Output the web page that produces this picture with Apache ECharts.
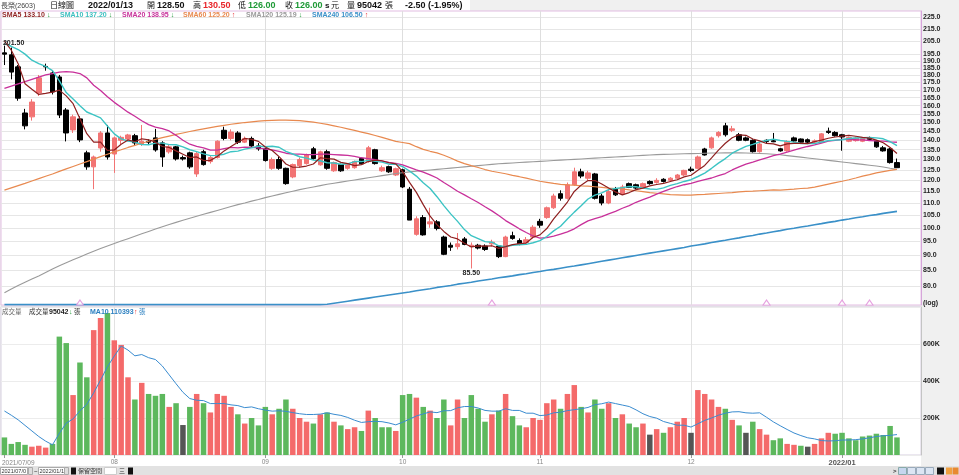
<!DOCTYPE html>
<html>
<head>
<meta charset="utf-8">
<title>長榮(2603) 日線圖</title>
<script src="https://cdn.jsdelivr.net/npm/echarts@6/dist/echarts.min.js"></script>
<style>
html,body{margin:0;padding:0;background:#f0f0f0;}
#chart{width:959px;height:475px;}
</style>
</head>
<body>
<div id="chart"></div>
<script>
// ================= DATA =================
const monthDays = [
  ['2021/07', [9,12,13,14,15,16,19,20,21,22,23,26,27,28,29,30]],
  ['2021/08', [2,3,4,5,6,9,10,11,12,13,16,17,18,19,20,23,24,25,26,27,30,31]],
  ['2021/09', [1,2,3,6,7,8,9,10,13,14,15,16,17,22,23,24,27,28,29,30]],
  ['2021/10', [1,4,5,6,7,8,12,13,14,15,18,19,20,21,22,25,26,27,28,29]],
  ['2021/11', [1,2,3,4,5,8,9,10,11,12,15,16,17,18,19,22,23,24,25,26,29,30]],
  ['2021/12', [1,2,3,6,7,8,9,10,13,14,15,16,17,20,21,22,23,24,27,28,29,30]],
  ['2022/01', [3,4,5,6,7,10,11,12,13]]
];
const monthTickLabels = ['2021/07/09','08','09','10','11','12','2022/01'];

const opens = [
  196,194.5,185.7,155.5,153.2,168,186,181.4,178.6,157.3,
  145.7,152,133.4,126.4,135.9,144,132.8,140,140.7,142.5,
  138,139.5,141.3,138.6,133.9,136.5,131,133.4,123,134,
  129,131,145.5,141,144,139,141,137,135.5,125.7,
  130,125.7,121.6,127,128,135.5,127.4,134,124.5,127.5,
  125.7,126,130.5,129,135,124.5,126.5,122.5,125,116,
  97.5,104,101.5,102.3,96.5,93.5,93,95.8,93,93.5,
  93.2,94,93.2,89.5,97,95.2,94.5,96.5,102.5,104,
  108,114,112,118,124,121,123,113,110,116,
  114,118.5,118,117,119.5,119,120.5,120,121,122.5,
  125.3,125.7,135.4,136,142.5,148,145.5,143,141.3,140,
  134,140,139.7,135.5,134.5,141.3,140.7,140.3,139,139,
  145,144.3,143,139.5,139.8,139.5,141.5,139.5,136,135.4,
  128.5
];
const closes = [
  195,182,164.6,148,162.2,178,185.7,168.6,154.3,144,
  153.2,140.2,126.4,131.3,144,131.3,141.3,141.6,142.9,138.6,
  139.5,139,134.9,131.3,136.5,130.3,130.3,126.4,133,127.5,
  131,139.5,141,144.5,139,141,137,135.5,129.5,130,
  125.7,118.5,127.5,130,132.5,130.5,133.9,125.7,128.5,124.5,
  127.4,129,127.9,136,128,126,124,125.5,117,103,
  103.5,97.3,102.3,99.7,90.3,92.8,94,93.8,93.5,92.5,
  92,94.6,89.5,96.5,96,94,95.5,100.2,101,108,
  113,112,118,124,122,123.5,112,110,115,113.5,
  117,116.8,116.5,118.5,118.5,120,119.5,121,122.5,124.7,
  124.7,131.3,132.3,141.3,144.3,143,146.3,140,140,134,
  138,139.4,139.2,134.4,139.4,139.6,139,139,139.7,143.5,
  144.3,142.5,141.8,141.5,141.2,141,140.5,136.5,134.4,128.5,
  126
];
const lows = [
  187,177,163,146,151,166,183,167,152.5,139.4,
  144,139,125,116,134,130,123.5,138,139.5,137.5,
  137,138,134,126.4,133,129.5,129.5,125.5,121.6,127,
  128,130.5,140,140,138,138.5,136.5,134.5,129,125,
  125,118,121,126,127.5,130,127,125,124,124,
  125,125.5,127.5,128.5,127.5,124,123.5,122,116.5,103,
  97,97,100,99,90,91.5,92,93.5,85.5,92,
  91.5,93,89,89.3,95.5,93.5,94,96,100,103.5,
  107.5,111,111.5,117.5,121,120,111.5,109,109.5,113,
  113.5,116.5,116,116.5,118,118.5,119,119.5,120.5,122,
  124,125.5,132,135.5,141.5,142,144.5,139.5,139.5,133.5,
  133.5,138.5,139,134,134,139,138.5,138.5,138.5,138.5,
  143.5,142,134.5,139,139.3,139,140,136,134,128,
  126
];
const highs = [
  201.5,200,187,158,164,180,188,183,180,158.5,
  154.5,153.5,134.5,132,145,148.5,142,142.5,143.5,143.5,
  148.5,140.5,146.3,139.5,137.5,137,132,134,134,135,
  132,140,147.5,146,145,142,142,138.5,136,131,
  131.5,126,128,131,133,136.5,134.5,135,129,128,
  128,129.5,131,137,135.5,127,127,126,125.5,117,
  104.5,105,108,103,97,94.5,98,96.5,94.5,94,
  93.8,95.5,93.5,97,98.5,96,96.5,101,103.5,108.5,
  114,115.5,119,126,125.5,124.5,123.5,114,116,117,
  118,119,118.5,119,120,121,121,121.5,123,125,
  126.5,132,136,142,145,149.7,148,144,142,140.5,
  139,140.5,144,136,140,142,141,141,140.5,144,
  147,145,143.5,142,142,141.5,142,140,137,136,
  130.5
];
const volumes = [
  95000,60000,70000,55000,45000,50000,40000,60000,640000,605000,
  324000,500000,420000,675000,740000,767000,620000,595000,420000,300000,
  390000,330000,320000,330000,260000,280000,162000,260000,330000,280000,
  230000,330000,320000,260000,220000,170000,200000,160000,260000,220000,
  250000,300000,250000,200000,180000,170000,220000,230000,180000,160000,
  140000,150000,130000,240000,200000,150000,150000,130000,324000,330000,
  310000,260000,240000,200000,300000,160000,300000,200000,324000,250000,
  180000,220000,240000,330000,210000,160000,150000,200000,190000,280000,
  300000,250000,330000,378000,260000,230000,300000,250000,280000,200000,
  220000,170000,150000,170000,110000,140000,120000,150000,180000,200000,
  120000,351000,330000,300000,260000,250000,190000,160000,120000,180000,
  140000,110000,80000,90000,60000,55000,50000,45000,60000,90000,
  120000,115000,120000,90000,80000,100000,105000,115000,108000,157000,
  95042
];
const volMa10 = [
  238000,215000,190000,160000,130000,100000,75000,55000,117000,172000,
  195000,239000,274000,336000,405000,477000,535000,589000,567000,536000,
  543000,526000,516000,481000,433000,385000,339000,305000,296000,294000,
  278000,278000,278000,271000,267000,256000,260000,250000,243000,237000,
  239000,236000,229000,223000,219000,219000,221000,228000,220000,214000,
  203000,188000,176000,180000,182000,180000,173000,163000,177000,194000,
  211000,222000,233000,229000,239000,240000,255000,262000,262000,254000,
  241000,237000,237000,250000,241000,241000,226000,226000,213000,216000,
  228000,231000,240000,245000,250000,257000,272000,277000,286000,278000,
  270000,262000,244000,223000,208000,199000,181000,171000,161000,161000,
  151000,169000,187000,200000,215000,226000,233000,234000,228000,226000,
  228000,204000,179000,158000,138000,119000,105000,93000,87000,78000,
  76000,77000,81000,81000,83000,87000,93000,100000,104000,106000,
  110393
];
const sma5 = [
  205,198,188,174,170.4,167.0,167.7,168.5,169.8,166.1,
  161.2,152.1,143.6,139.0,139.0,134.6,134.9,137.9,140.2,139.2,
  140.8,140.3,139.0,136.7,136.2,134.4,132.7,131.0,131.3,129.5,
  129.6,131.5,134.4,136.7,139.0,141.0,140.5,139.4,136.4,134.6,
  131.5,127.8,126.2,126.3,126.8,127.8,130.9,130.5,130.2,128.6,
  128.0,127.0,127.5,129.0,129.7,129.4,128.4,127.9,124.1,119.1,
  114.6,109.3,104.6,101.2,98.6,96.5,95.8,94.2,92.9,93.3,
  93.2,93.3,92.4,93.0,93.7,94.1,94.3,96.4,97.3,99.7,
  103.5,106.8,110.4,115.0,117.8,119.9,119.9,118.3,116.5,114.8,
  113.5,114.5,115.8,116.5,117.5,118.1,118.6,119.5,120.3,121.6,
  122.4,124.8,127.1,130.8,134.8,138.4,141.4,143.0,142.7,140.7,
  139.7,138.3,138.1,137.0,138.1,138.4,138.3,138.2,139.3,140.1,
  141.1,141.8,142.3,142.7,142.2,141.6,141.2,140.1,138.7,136.2,
  133.1
];
const sma10 = [
  203,201,198.5,195,190.5,188,186,183,176,168.2,
  164.1,159.9,156.1,154.4,152.6,147.9,143.5,140.8,139.6,139.1,
  137.7,137.6,138.5,138.5,137.7,137.6,136.5,135.0,134.0,132.9,
  132.0,132.1,132.7,134.0,134.3,135.3,136.0,136.9,136.6,136.8,
  136.3,134.2,132.8,131.4,130.7,129.7,129.4,128.4,128.3,127.7,
  127.9,129.0,129.0,129.6,129.1,128.7,127.7,127.7,126.5,124.4,
  122.0,118.9,116.3,112.7,108.9,105.5,102.5,99.3,97.0,95.9,
  94.8,94.6,93.3,93.0,93.5,93.7,93.8,94.4,95.2,96.7,
  98.8,100.6,103.4,106.2,108.8,111.7,113.4,114.4,115.8,116.3,
  116.7,117.2,117.1,116.5,116.1,115.9,116.6,117.7,118.5,119.5,
  120.3,121.8,123.4,125.7,128.2,130.5,133.2,135.1,136.8,137.8,
  139.1,139.9,140.6,139.9,139.4,139.0,138.3,138.2,138.2,139.1,
  139.8,140.1,140.3,141.0,141.2,141.4,141.5,141.3,140.8,139.3,
  137.2
];
const sma20 = [
  171,172.5,174,175.5,177,178.5,180,181,182,182.3,
  182,181,178,173,169.5,165.5,162,159,156,153.6,
  150.9,148.7,147.3,146.4,145.1,142.7,140.0,137.9,136.8,136.0,
  134.8,134.8,135.6,136.2,136.0,136.4,136.2,136.0,135.3,134.9,
  134.2,133.2,132.8,132.7,132.5,132.5,132.7,132.7,132.5,132.3,
  132.1,131.6,130.9,130.5,129.9,129.2,128.6,128.1,127.4,126.1,
  124.9,123.9,122.6,121.1,119.0,117.1,115.1,113.5,111.8,110.2,
  108.4,106.7,104.8,102.8,101.2,99.6,98.2,96.9,96.1,96.3,
  96.8,97.6,98.4,99.6,101.2,102.7,103.6,104.4,105.5,106.5,
  107.8,108.9,110.3,111.4,112.5,113.8,115.0,116.1,117.2,118.0,
  118.6,119.5,120.3,121.1,122.2,123.2,124.9,126.4,127.7,128.7,
  129.8,130.9,132.0,132.8,133.8,134.8,135.8,136.7,137.5,138.5,
  139.5,140.0,140.5,140.5,140.3,140.2,139.9,139.7,139.5,139.2,
  138.95
];
const sma60 = [
  115.6,116.6,117.6,118.6,119.7,120.8,121.9,123.0,124.2,125.4,
  126.6,127.8,129.0,130.2,131.5,132.7,133.9,135.0,136.2,137.3,
  138.4,139.5,140.5,141.4,142.3,143.2,144.0,144.8,145.6,146.3,
  147.0,147.7,148.3,148.9,149.4,149.9,150.3,150.7,151.0,151.2,
  151.3,151.3,151.2,151.0,150.6,150.1,149.5,148.8,148.0,147.2,
  146.3,145.4,144.5,143.6,142.6,141.6,140.5,139.4,138.8,138.2,
  136.6,135.2,134.2,133.4,132.2,130.8,129.2,128.0,127.0,126.1,
  125.1,124.3,123.7,123.1,122.3,121.7,121.0,120.3,119.6,119.1,
  118.6,118.2,117.9,117.8,117.5,117.4,117.1,116.8,116.5,116.3,
  116.1,115.7,115.3,114.9,114.5,114.2,113.9,113.6,113.5,113.4,
  113.4,113.6,113.7,113.9,114.1,114.3,114.5,114.8,115.0,115.1,
  115.3,115.5,115.7,115.6,115.8,116.0,116.3,116.5,116.9,117.6,
  118.3,119.0,119.6,120.3,121.1,122.0,122.7,123.5,124.1,124.7,
  125.2
];
const sma120 = [
  77.9,79.0,80.1,81.1,82.1,83.1,84.2,85.3,86.4,87.4,
  88.4,89.4,90.4,91.4,92.3,93.2,94.1,95.0,95.9,96.8,
  97.7,98.6,99.5,100.4,101.3,102.1,102.9,103.7,104.5,105.3,
  106.1,106.9,107.7,108.5,109.3,110.0,110.8,111.5,112.3,113.0,
  113.7,114.4,115.1,115.8,116.4,117.0,117.6,118.2,118.7,119.2,
  119.7,120.2,120.7,121.2,121.7,122.2,122.7,123.2,123.6,124.0,
  124.3,124.6,124.9,125.2,125.5,125.8,126.1,126.4,126.7,127.0,
  127.3,127.6,127.9,128.1,128.3,128.5,128.7,128.9,129.1,129.3,
  129.5,129.7,129.9,130.1,130.3,130.5,130.7,130.9,131.1,131.3,
  131.5,131.7,131.9,132.1,132.3,132.5,132.6,132.7,132.8,132.9,
  133.0,133.1,133.2,133.3,133.3,133.4,133.4,133.4,133.3,133.2,
  133.1,132.9,132.7,132.4,132.0,131.6,131.2,130.8,130.4,130.0,
  129.6,129.2,128.8,128.4,128.0,127.6,127.2,126.8,126.3,125.7,
  125.19
];
const sma240 = [
  74.4,74.4,74.4,74.4,74.4,74.4,74.4,74.4,74.4,74.4,
  74.4,74.4,74.4,74.4,74.4,74.4,74.4,74.4,74.4,74.4,
  74.4,74.4,74.4,74.4,74.4,74.4,74.4,74.4,74.4,74.4,
  74.4,74.4,74.4,74.4,74.4,74.4,74.4,74.4,74.4,74.4,
  74.4,74.4,74.4,74.4,74.4,74.4,74.4,74.5,74.8,75.1,
  75.4,75.7,76.0,76.3,76.6,76.9,77.2,77.5,77.8,78.1,
  78.5,78.8,79.1,79.5,79.8,80.1,80.5,80.8,81.1,81.5,
  81.8,82.1,82.5,82.8,83.1,83.5,83.8,84.2,84.5,84.9,
  85.2,85.6,86.0,86.3,86.7,87.1,87.5,87.9,88.3,88.7,
  89.1,89.5,89.9,90.3,90.7,91.1,91.5,91.9,92.3,92.7,
  93.2,93.6,94.0,94.5,94.9,95.3,95.8,96.2,96.7,97.1,
  97.6,98.0,98.5,98.9,99.4,99.8,100.3,100.7,101.2,101.6,
  102.1,102.5,103.0,103.4,103.9,104.3,104.8,105.2,105.7,106.1,
  106.5
];
const priceTicks = [80,85,90,95,100,105,110,115,120,125,130,135,140,145,150,155,160,165,170,175,180,185,190,195,205,215,225];
const volTickStep = 200000;
const eventIdx = [11,71,111,122,126];

// ================= BUILD =================
const FONT = '"Liberation Sans","Noto Sans CJK TC","DejaVu Sans",sans-serif';
const RED = '#e8262a', GREEN = '#1e9a36';
const UP_CANDLE = '#f27474', DOWN_CANDLE = '#000000';
const UP_VOL = '#f46a6a', DOWN_VOL = '#5db85d', FLAT_VOL = '#555555';

const dates = [], monthStart = [];
monthDays.forEach(([ym, days]) => {
  monthStart.push(dates.length);
  days.forEach(d => dates.push(ym + '/' + String(d).padStart(2, '0')));
});
const PAD = 3;
const cats = dates.concat([' ', '  ', '   '].slice(0, PAD));
const N = dates.length;

const candleData = opens.map((o, i) => [o, closes[i], lows[i], highs[i]]);
const volData = volumes.map((v, i) => {
  const d = i === 0 ? -1 : Math.sign(closes[i] - closes[i - 1]);
  return { value: v, itemStyle: { color: d > 0 ? UP_VOL : (d < 0 ? DOWN_VOL : FLAT_VOL) } };
});
const hiIdx = highs.indexOf(Math.max(...highs));
const loIdx = lows.indexOf(Math.min(...lows));

const last = N - 1;
const arrow = (a) => a[last] >= a[last - 1] ? ['↑', RED] : ['↓', GREEN];
const fmt2 = v => Number(v).toFixed(2);

const g = [];
function T(x, y, text, size, color, bold) {
  g.push({
    type: 'text', x: x, y: y, z: 100, silent: true,
    style: { text: text, font: (bold ? 'bold ' : '') + size + 'px ' + FONT, fill: color, verticalAlign: 'middle', align: 'left' }
  });
}
function R(x, y, w, h, fill, stroke, z) {
  g.push({ type: 'rect', z: z === undefined ? 50 : z, silent: true, shape: { x: x, y: y, width: w, height: h },
    style: { fill: fill, stroke: stroke || null, lineWidth: stroke ? 1 : 0 } });
}
// backgrounds
R(0, 0, 470, 11, '#ffffff', null, -10);
R(0, 455, 921, 11, '#ffffff', null, -10);
// header
const chg = closes[last] - closes[last - 1];
const pct = chg / closes[last - 1] * 100;
T(1, 6, '長榮(2603)', 7, '#444', false);
T(50, 6, '日線圖', 8, '#111', false);
T(88, 6, dates[last], 9, '#111', true);
T(147, 6, '開', 8, '#111', false);
T(157, 6, fmt2(opens[last]), 9, '#111', true);
T(193, 6, '高', 8, '#111', false);
T(203, 6, fmt2(highs[last]), 9, RED, true);
T(238, 6, '低', 8, '#111', false);
T(248, 6, fmt2(lows[last]), 9, GREEN, true);
T(285, 6, '收', 8, '#111', false);
T(295, 6, fmt2(closes[last]), 9, GREEN, true);
T(325, 6, 's', 8, '#111', true);
T(331, 6, '元', 8, '#111', false);
T(347, 6, '量', 8, '#111', false);
T(357, 6, String(volumes[last]), 9, '#111', true);
T(385, 6, '張', 8, '#111', false);
T(405, 6, chg.toFixed(2) + ' (' + pct.toFixed(2) + '%)', 9, '#111', true);
// SMA legend
const maDefs = [
  ['SMA5', sma5, '#8e1f1f', 2],
  ['SMA10', sma10, '#3cbfbf', 60],
  ['SMA20', sma20, '#c8309a', 122],
  ['SMA60', sma60, '#e8894f', 183],
  ['SMA120', sma120, '#9a9a9a', 246],
  ['SMA240', sma240, '#3a90c8', 312]
];
maDefs.forEach(([name, arr, col, x]) => {
  const s = name + ' ' + fmt2(arr[last]);
  T(x, 15.5, s, 7, col, true);
  const a = arrow(arr);
  T(x + s.length * 3.9 + 2, 15.5, a[0], 7, a[1], true);
});
// volume legend
const vArrow = volumes[last] >= volumes[last - 1] ? ['↑', RED] : ['↓', GREEN];
const mArrow = arrow(volMa10);
T(2, 312, '成交量', 6.5, '#666', false);
T(29, 312, '成交量', 6.5, '#333', false);
T(49, 312, String(volumes[last]), 7, '#222', true);
T(69, 312, vArrow[0], 7, vArrow[1], true);
T(74, 312, '張', 6.5, '#333', false);
T(90, 312, 'MA10 ' + Math.round(volMa10[last]), 7, '#2a7fc0', true);
T(134, 312, mArrow[0], 7, mArrow[1], true);
T(139, 312, '張', 6.5, '#2a7fc0', false);
// log tag & first date label
T(923, 303, '(log)', 7, '#222', true);
T(2, 463, monthTickLabels[0], 6.5, '#888', false);
// toolbar
R(0, 466, 959, 9, '#e2e2e2', null, 40);
R(0.5, 467.5, 27, 7, '#fff', '#aaa');
T(1.5, 471, '2021/07/0', 5.5, '#333', false);
R(28.5, 467.5, 4, 7, '#ddd', '#aaa');
T(34, 471, '~', 6, '#333', false);
R(38.5, 467.5, 26, 7, '#fff', '#aaa');
T(39.5, 471, '2022/01/1', 5.5, '#333', false);
R(64.5, 467.5, 4, 7, '#ddd', '#aaa');
R(71, 467.5, 5, 7, '#111');
T(78, 471, '保留空間', 6, '#333', false);
R(104.5, 467.5, 12, 7, '#fff', '#ccc');
T(119, 471, '三', 6, '#333', false);
R(128, 467.5, 5, 7, '#111');
T(893, 471, '>', 6, '#333', true);
R(898.5, 467.5, 8, 7, '#c6d6ee', '#8aa');
R(907.5, 467.5, 8, 7, '#dbe5f3', '#9ab');
R(916.5, 467.5, 8, 7, '#dbe5f3', '#9ab');
R(925.5, 467.5, 8, 7, '#dbe5f3', '#9ab');
R(937, 467.5, 7, 7, '#111');
R(946, 467.5, 6, 7, '#f0a040');
R(952.5, 467.5, 6, 7, '#e88a30');

const lineS = (name, data, color, width) => ({
  name: name, type: 'line', data: data, xAxisIndex: 0, yAxisIndex: 0,
  symbol: 'none', smooth: false, silent: true,
  lineStyle: { color: color, width: width }, z: 3
});

const option = {
  animation: false,
  backgroundColor: '#f0f0f0',
  textStyle: { fontFamily: FONT },
  grid: [
    { left: 1, top: 11, width: 920, height: 294, show: true, backgroundColor: '#ffffff', borderColor: '#e2bde2', borderWidth: 1 },
    { left: 1, top: 307, width: 920, height: 148, show: true, backgroundColor: '#ffffff', borderColor: '#d6cfe0', borderWidth: 1 }
  ],
  xAxis: [
    { type: 'category', gridIndex: 0, data: cats, boundaryGap: true,
      axisLine: { show: false }, axisTick: { show: false }, axisLabel: { show: false }, splitLine: { show: false } },
    { type: 'category', gridIndex: 1, data: cats, boundaryGap: true,
      axisLine: { show: false },
      axisTick: { show: true, alignWithLabel: true, length: 3, interval: (i) => monthStart.indexOf(i) >= 0, lineStyle: { color: '#999' } },
      axisLabel: { interval: (i) => monthStart.indexOf(i) > 0, margin: 4, fontSize: 6.5, color: '#888', fontFamily: FONT,
        formatter: (v, i) => { const k = monthStart.indexOf(i); const t = k >= 0 ? monthTickLabels[k] : ''; return t.length > 3 ? '{y|' + t + '}' : t; },
        rich: { y: { fontSize: 7.5, fontWeight: 'bold', color: '#555', fontFamily: FONT } } },
      splitLine: { show: false } }
  ],
  yAxis: [
    { type: 'log', logBase: 10, gridIndex: 0, position: 'right', min: 74.3, max: 230.2,
      axisLine: { show: true, lineStyle: { color: '#d6a6da' } }, axisTick: { show: false }, splitLine: { show: false },
      axisLabel: { customValues: priceTicks, formatter: (v) => Number(v).toFixed(1), fontSize: 7, fontWeight: 'bold', color: '#222', margin: 2, fontFamily: FONT } },
    { type: 'value', gridIndex: 1, position: 'right', min: 0, max: 4 * volTickStep, interval: volTickStep,
      axisLine: { show: true, lineStyle: { color: '#c4c4c4' } }, axisTick: { show: false },
      splitLine: { show: true, lineStyle: { color: '#ececec' } },
      axisLabel: { formatter: (v) => (v > 0 && v < 4 * volTickStep) ? (v / 1000) + 'K' : '', fontSize: 7, fontWeight: 'bold', color: '#222', margin: 2, fontFamily: FONT } }
  ],
  graphic: g,
  series: [
    { name: 'grid0', type: 'line', xAxisIndex: 0, yAxisIndex: 0, data: [], silent: true,
      markLine: { z: 1, silent: true, symbol: 'none', animation: false, label: { show: false },
        lineStyle: { color: '#e6e6e6', width: 1, type: 'solid' },
        data: priceTicks.map(v => ({ yAxis: v })).concat(monthStart.slice(1).map(i => ({ xAxis: i, lineStyle: { color: '#dedede', type: 'solid', width: 1 } }))) } },
    { name: 'K', type: 'candlestick', xAxisIndex: 0, yAxisIndex: 0, data: candleData, barWidth: 5, silent: true,
      itemStyle: { color: UP_CANDLE, color0: DOWN_CANDLE, borderColor: UP_CANDLE, borderColor0: DOWN_CANDLE, borderWidth: 1 },
      markPoint: { symbol: 'rect', symbolSize: 1, silent: true, animation: false, itemStyle: { color: 'rgba(0,0,0,0)' },
        label: { show: true, color: '#222', fontSize: 7, fontWeight: 'bold', fontFamily: FONT },
        data: [
          { coord: [hiIdx, highs[hiIdx]], label: { formatter: fmt2(highs[hiIdx]), position: 'right', offset: [-7, -3] } },
          { coord: [loIdx, lows[loIdx]], label: { formatter: fmt2(lows[loIdx]), position: 'bottom', distance: 1 } }
        ] } },
    lineS('SMA240', sma240, '#3a90c8', 1.6),
    lineS('SMA120', sma120, '#9a9a9a', 1.1),
    lineS('SMA60', sma60, '#e8894f', 1.2),
    lineS('SMA20', sma20, '#c8309a', 1.3),
    lineS('SMA10', sma10, '#3cc4c4', 1.4),
    lineS('SMA5', sma5, '#8e1f1f', 1.2),
    { name: 'events', type: 'scatter', xAxisIndex: 0, yAxisIndex: 0, silent: true, z: 4,
      data: eventIdx.map(i => [i, 75.0]), symbol: 'triangle', symbolSize: [7, 5],
      itemStyle: { color: '#ffffff', borderColor: '#e08ad8', borderWidth: 1 } },
    { name: 'grid1', type: 'line', xAxisIndex: 1, yAxisIndex: 1, data: [], silent: true,
      markLine: { z: 1, silent: true, symbol: 'none', animation: false, label: { show: false },
        lineStyle: { color: '#e2e2e2', width: 1, type: 'solid' },
        data: monthStart.slice(1).map(i => ({ xAxis: i })) } },
    { name: '成交量', type: 'bar', xAxisIndex: 1, yAxisIndex: 1, data: volData, barWidth: 5.5, silent: true, z: 2 },
    { name: 'MA10', type: 'line', xAxisIndex: 1, yAxisIndex: 1, data: volMa10, symbol: 'none', silent: true, z: 3,
      lineStyle: { color: '#3a8cd0', width: 1 } }
  ]
};

const chart = echarts.init(document.getElementById('chart'), null, { renderer: 'canvas' });
chart.setOption(option);
</script>
</body>
</html>
